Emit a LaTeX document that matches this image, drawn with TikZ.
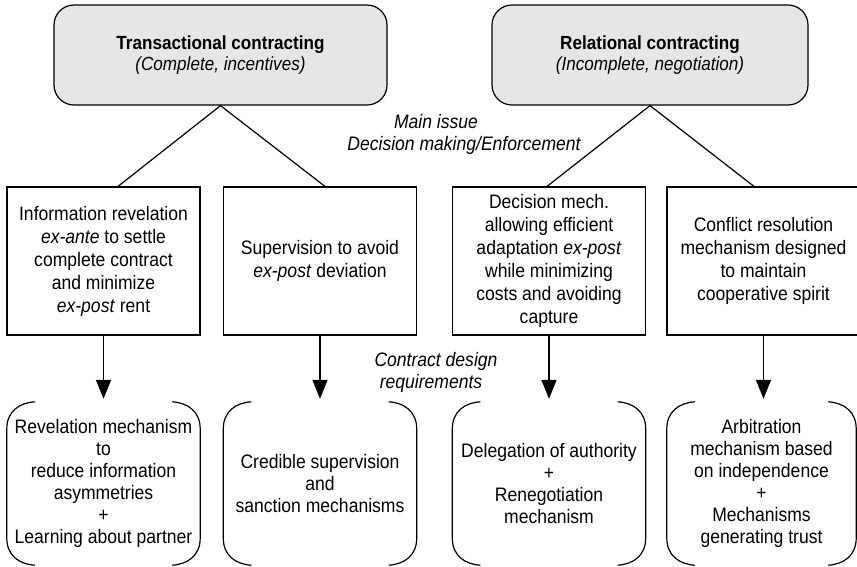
\documentclass[tikz,border=0pt]{standalone}
\usepackage{fontspec}
\setmainfont[FakeStretch=0.9]{Liberation Sans}
\usetikzlibrary{arrows.meta,calc}
\definecolor{boxgray}{HTML}{E6E6E6}
\newcommand\bracketpair[1]{%
  \draw[conn] ([xshift=28pt]#1.north west) .. controls ([xshift=12pt,yshift=-1pt]#1.north west) and ([yshift=-10pt]#1.north west) .. ([yshift=-27pt]#1.north west)
    -- ([yshift=27pt]#1.south west) .. controls ([yshift=10pt]#1.south west) and ([xshift=12pt,yshift=1pt]#1.south west) .. ([xshift=28pt]#1.south west);
  \draw[conn] ([xshift=-28pt]#1.north east) .. controls ([xshift=-12pt,yshift=-1pt]#1.north east) and ([yshift=-10pt]#1.north east) .. ([yshift=-27pt]#1.north east)
    -- ([yshift=27pt]#1.south east) .. controls ([yshift=10pt]#1.south east) and ([xshift=-12pt,yshift=1pt]#1.south east) .. ([xshift=-28pt]#1.south east);
}
\begin{document}
\begin{tikzpicture}[x=1pt,y=-1pt,
  every node/.style={font=\fontsize{19.5}{23}\selectfont, align=center, inner sep=0pt},
  topbox/.style={draw, fill=boxgray, rounded corners=20pt, minimum height=100pt, line width=1.2pt, font=\fontsize{19}{20.5}\selectfont},
  midbox/.style={draw, minimum width=193pt, minimum height=148pt, line width=1.2pt},
  botbox/.style={minimum width=193pt, minimum height=163pt, font=\fontsize{19.5}{22}\selectfont},
  conn/.style={line width=1.2pt},
  arr/.style={line width=1.5pt, -{Triangle[width=15pt,length=19pt]}, shorten >=3pt},
  lbl/.style={font=\fontsize{19.5}{22}\selectfont\itshape, anchor=base}
]
\useasboundingbox (0,0) rectangle (857,566);

\node[topbox, minimum width=333pt] (t1) at (220.5,55) {\textbf{Transactional contracting}\\\textit{(Complete, incentives)}};
\node[topbox, minimum width=316pt] (t2) at (650,55) {\textbf{Relational contracting}\\\textit{(Incomplete, negotiation)}};

\node[midbox] (m1) at (103.5,261) {Information revelation\\\textit{ex-ante} to settle\\complete contract\\and minimize\\\textit{ex-post} rent};
\node[midbox] (m2) at (320,261) {Supervision to avoid\\\textit{ex-post} deviation};
\node[midbox] (m3) at (549,261) {Decision mech.\\allowing efficient\\adaptation \textit{ex-post}\\while minimizing\\costs and avoiding\\capture};
\node[midbox] (m4) at (763.5,261) {Conflict resolution\\mechanism designed\\to maintain\\cooperative spirit};

\node[botbox] (b1) at (103.5,483.5) {Revelation mechanism\\to\\reduce information\\asymmetries\\+\\Learning about partner};
\node[botbox] (b2) at (320,483.5) {Credible supervision\\and\\sanction mechanisms};
\node[botbox] (b3) at (549,483.5) {Delegation of authority\\+\\Renegotiation\\mechanism};
\node[botbox, minimum width=189pt] (b4) at (761.5,483.5) {Arbitration\\mechanism based\\on independence\\+\\Mechanisms\\generating trust};

\node[lbl] (mi) at (436,128) {Main issue};
\node[lbl] (dm) at (464,150) {Decision making/Enforcement};
\node[lbl] (cd) at (436,366) {Contract design};
\node[lbl] (rq) at (431,388) {requirements};

\draw[conn] ([xshift=14.5pt]m1.north) -- (t1.south) -- ([xshift=5pt]m2.north);
\draw[conn] ([xshift=-2pt]m3.north) -- (t2.south) -- ([xshift=-9.5pt]m4.north);

\draw[arr] (m1.south) -- (b1.north);
\draw[arr] (m2.south) -- (b2.north);
\draw[arr] (m3.south) -- (b3.north);
\draw[arr] (m4.south) -- (b4.north -| m4.south);

\bracketpair{b1}
\bracketpair{b2}
\bracketpair{b3}
\bracketpair{b4}
\end{tikzpicture}
\end{document}
